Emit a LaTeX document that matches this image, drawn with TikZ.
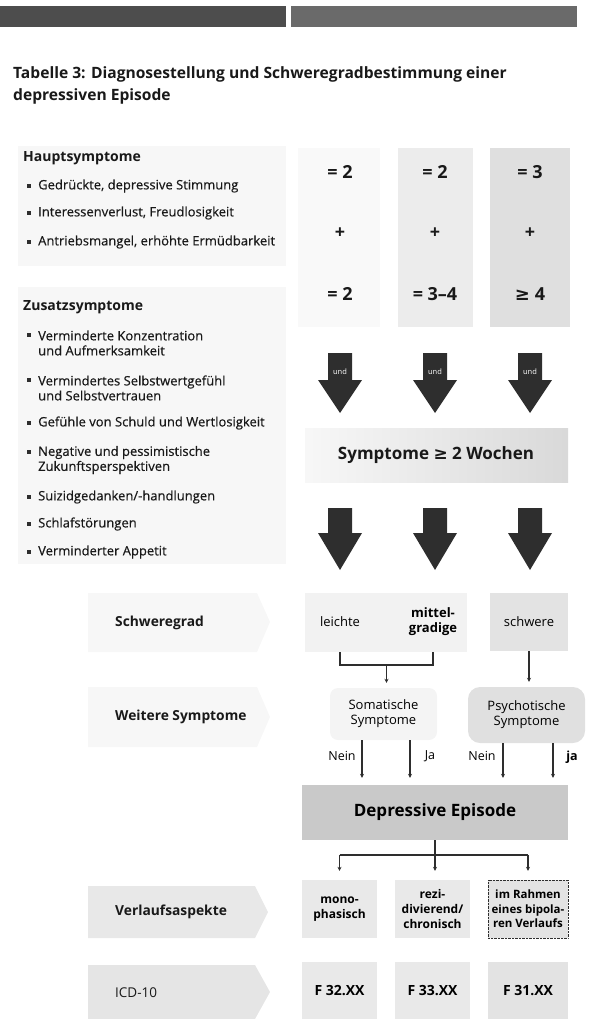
\documentclass[tikz,border=0pt]{standalone}
\usepackage{fontspec}
\setmainfont{Open Sans}
\newfontfamily\itemfont{Open Sans}[FakeBold=0.4]
\newfontfamily\symfont{DejaVu Sans}
\usepackage{tikz}
\usetikzlibrary{arrows.meta}
\definecolor{bargray}{HTML}{4D4D4D}
\definecolor{barlight}{HTML}{6A6A6A}
\definecolor{inkgray}{HTML}{2E2E2E}
\definecolor{panelgray}{HTML}{F7F7F7}

\begin{document}
\begin{tikzpicture}[x=1pt,y=-1pt,
  txt/.style={inner sep=0pt, text=black!90},
  item/.style={txt, anchor=west, align=left, font=\itemfont\fontsize{13}{15}\selectfont},
  head/.style={txt, anchor=west, font=\fontsize{14}{16}\selectfont\bfseries},
  val/.style={txt, font=\fontsize{18}{20}\selectfont\bfseries},
  lbl/.style={txt, anchor=west, font=\fontsize{13.8}{16}\selectfont\bfseries},
  box/.style={inner sep=2pt, align=center, font=\fontsize{13}{15}\selectfont},
  line/.style={inkgray, line width=1.3pt},
  arr/.style={line, -{Stealth[length=4pt,width=4pt]}}]
  \useasboundingbox (0,0) rectangle (589,1019);
  % Kopfleiste und Titel
  \fill[bargray]  (0,6) rectangle (286,27);
  \fill[barlight] (291,6) rectangle (577,27);
  \node[txt, anchor=north west, align=left, font=\fontsize{15.6}{22}\selectfont\bfseries]
    (title) at (13,66) {Tabelle 3: Diagnosestellung und Schweregradbestimmung einer\\depressiven Episode};

  % Symptomlisten
  \fill[panelgray] (18,146) rectangle (286,266);
  \fill[panelgray] (18,287) rectangle (286,564);
  \node[head] (haupt) at (23,158) {Hauptsymptome};
  \fill[inkgray] (26.5,184) rectangle (30.5,188);
  \node[item] (h1) at (38,186) {Gedrückte, depressive Stimmung};
  \fill[inkgray] (26.5,211) rectangle (30.5,215);
  \node[item] (h2) at (38,213) {Interessenverlust, Freudlosigkeit};
  \fill[inkgray] (26.5,240) rectangle (30.5,244);
  \node[item] (h3) at (38,242) {Antriebsmangel, erhöhte Ermüdbarkeit};
  \node[head] (zusatz) at (23,307) {Zusatzsymptome};
  \fill[inkgray] (26.5,333) rectangle (30.5,337);
  \node[item] (z1) at (38,343) {Verminderte Konzentration\\und Aufmerksamkeit};
  \fill[inkgray] (26.5,378) rectangle (30.5,382);
  \node[item] (z2) at (38,388) {Vermindertes Selbstwertgefühl\\und Selbstvertrauen};
  \fill[inkgray] (26.5,421) rectangle (30.5,425);
  \node[item] (z3) at (38,423) {Gefühle von Schuld und Wertlosigkeit};
  \fill[inkgray] (26.5,450) rectangle (30.5,454);
  \node[item] (z4) at (38,460) {Negative und pessimistische\\Zukunftsperspektiven};
  \fill[inkgray] (26.5,495) rectangle (30.5,499);
  \node[item] (z5) at (38,497) {Suizidgedanken/-handlungen};
  \fill[inkgray] (26.5,522) rectangle (30.5,526);
  \node[item] (z6) at (38,524) {Schlafstörungen};
  \fill[inkgray] (26.5,550) rectangle (30.5,554);
  \node[item] (z7) at (38,552) {Verminderter Appetit};

  % Spalten leicht / mittel / schwer
  \fill[gray!5]  (298,148) rectangle (380,327);
  \fill[gray!15] (398,148) rectangle (473,327);
  \fill[gray!25] (490,148) rectangle (570,327);
  \node[val] (a1) at (340,172) {= 2};
  \node[val] (b1) at (435,172) {= 2};
  \node[val] (c1) at (530,172) {= 3};
  \node[val] (a2) at (340,233) {+};
  \node[val] (b2) at (435,233) {+};
  \node[val] (c2) at (530,233) {+};
  \node[val] (a3) at (340,294) {= 2};
  \node[val] (b3) at (435,294) {= 3–4};
  \node[val] (c3) at (530,294) {{\symfont\bfseries ≥} 4};

  \fill[inkgray] (328,353) -- (352,353) -- (352,380) -- (362,380) -- (340,413) -- (318,380) -- (328,380) -- cycle;
  \fill[inkgray] (423,353) -- (447,353) -- (447,380) -- (457,380) -- (435,413) -- (413,380) -- (423,380) -- cycle;
  \fill[inkgray] (518,353) -- (542,353) -- (542,380) -- (552,380) -- (530,413) -- (508,380) -- (518,380) -- cycle;
  \node[txt, text=white, font=\fontsize{7.5}{8}\selectfont] (und1) at (340,372) {und};
  \node[txt, text=white, font=\fontsize{7.5}{8}\selectfont] (und2) at (435,372) {und};
  \node[txt, text=white, font=\fontsize{7.5}{8}\selectfont] (und3) at (530,372) {und};

  \shade[left color=gray!6, right color=gray!30] (305,428) rectangle (568,482);
  \node[txt, font=\fontsize{17}{20}\selectfont\bfseries] (dauer) at (436,455)
    {Symptome {\symfont\bfseries ≥} 2 Wochen};

  \fill[inkgray] (328,508) -- (352,508) -- (352,533) -- (362,533) -- (340,570) -- (318,533) -- (328,533) -- cycle;
  \fill[inkgray] (423,508) -- (447,508) -- (447,533) -- (457,533) -- (435,570) -- (413,533) -- (423,533) -- cycle;
  \fill[inkgray] (518,508) -- (542,508) -- (542,533) -- (552,533) -- (530,570) -- (508,533) -- (518,533) -- cycle;

  % Zeilenbeschriftung links
  \fill[gray!6]  (88,593) -- (257,593) -- (270,622) -- (257,652) -- (88,652) -- cycle;
  \fill[gray!6]  (88,687) -- (257,687) -- (270,717) -- (257,747) -- (88,747) -- cycle;
  \fill[gray!18] (88,886) -- (255,886) -- (268,912) -- (255,938) -- (88,938) -- cycle;
  \fill[gray!20] (88,965) -- (255,965) -- (270,992) -- (255,1019) -- (88,1019) -- cycle;
  \node[lbl] (schwere) at (115,623) {Schweregrad};
  \node[lbl] (weitere) at (115,717) {Weitere Symptome};
  \node[lbl] (verlauf) at (115,912) {Verlaufsaspekte};
  \node[lbl, font=\fontsize{13.5}{16}\selectfont] (icd) at (115,993) {ICD-10};

  % Schweregrad
  \node[box, fill=gray!10, minimum width=162pt, minimum height=59pt] (sevLM) at (386,622.5) {};
  \node[box] (sevL) at (340,622) {leichte};
  \node[box, font=\fontsize{13}{15}\selectfont\bfseries] (sevM) at (433,621.5) {mittel-\\gradige};
  \node[box, fill=gray!22, minimum width=78pt, minimum height=58pt] (sevS) at (529,622) {schwere};
  \coordinate (brc) at (386.5,665);
  \draw[line] (sevL |- sevLM.south) |- (brc) -| (sevM |- sevLM.south);

  % Weitere Symptome
  \node[box, fill=gray!9, rounded corners=8pt, minimum width=107pt, minimum height=52pt] (soma) at (383.5,714)
    {Somatische\\Symptome};
  \node[box, fill=gray!24, rounded corners=12pt, minimum width=117pt, minimum height=56pt] (psych) at (526.5,715)
    {Psychotische\\Symptome};
  \draw[arr, shorten >=5pt] (brc) -- (brc |- soma.north);
  \draw[arr, shorten >=5pt] (sevS.south) -- (sevS.south |- psych.north);

  \node[box, fill=gray!42, minimum width=266pt, minimum height=55pt,
    font=\fontsize{17}{20}\selectfont\bfseries] (depr) at (435,812.5) {Depressive Episode};
  \draw[arr, shorten >=7pt] (soma.south -| 362,0) -- (depr.north -| 362,0);
  \draw[arr, shorten >=7pt] (soma.south -| 410,0) -- (depr.north -| 410,0);
  \draw[arr, shorten >=7pt] (psych.south -| 503,0) -- (depr.north -| 503,0);
  \draw[arr, shorten >=7pt] (psych.south -| 553,0) -- (depr.north -| 553,0);
  \node[box, inner sep=0pt, font=\fontsize{12.5}{15}\selectfont] (nein1) at (342,756) {Nein};
  \node[box, inner sep=0pt, font=\fontsize{12.5}{15}\selectfont] (ja1) at (430,756) {Ja};
  \node[box, inner sep=0pt, font=\fontsize{12.5}{15}\selectfont] (nein2) at (482,756) {Nein};
  \node[box, inner sep=0pt, font=\fontsize{12.5}{15}\selectfont\bfseries] (ja2) at (572,757) {ja};

  % Verlauf und ICD-10
  \node[box, fill=gray!17, minimum width=75pt, minimum height=58pt,
    font=\fontsize{12}{15}\selectfont\bfseries] (verl1) at (339.5,909) {mono-\\phasisch};
  \node[box, fill=gray!17, minimum width=75pt, minimum height=58pt,
    font=\fontsize{12}{15}\selectfont\bfseries] (verl2) at (432.5,909) {rezi-\\divierend/\\chronisch};
  \node[box, fill=gray!22, draw=inkgray, densely dotted, minimum width=80pt, minimum height=58pt,
    font=\fontsize{11.5}{14.5}\selectfont\bfseries] (verl3) at (528,909) {im Rahmen\\eines bipola-\\ren Verlaufs};
  \coordinate (brv) at (435,855);
  \draw[line] (depr.south) -- (brv);
  \draw[line] (verl1.north |- brv) -- (verl3.north |- brv);
  \draw[arr, shorten >=9pt] (brv) -- (brv |- verl2.north);
  \draw[arr, shorten >=9pt] (verl1.north |- brv) -- (verl1.north);
  \draw[arr, shorten >=9pt] (verl3.north |- brv) -- (verl3.north);

  \node[box, fill=gray!17, minimum width=75pt, minimum height=57pt,
    font=\fontsize{14}{16}\selectfont\bfseries] (icd1) at (339.5,990.5) {F 32.XX};
  \node[box, fill=gray!17, minimum width=75pt, minimum height=57pt,
    font=\fontsize{14}{16}\selectfont\bfseries] (icd2) at (432.5,990.5) {F 33.XX};
  \node[box, fill=gray!22, minimum width=80pt, minimum height=57pt,
    font=\fontsize{14}{16}\selectfont\bfseries] (icd3) at (528,990.5) {F 31.XX};
\end{tikzpicture}
\end{document}
